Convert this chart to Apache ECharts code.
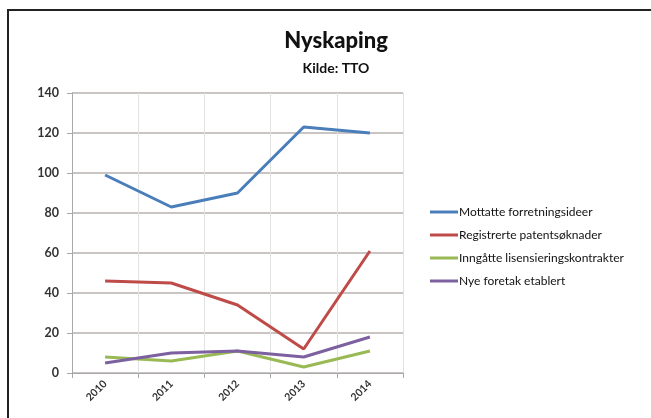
<!DOCTYPE html>
<html>
<head>
<meta charset="utf-8">
<script src="https://cdn.jsdelivr.net/npm/echarts@6/dist/echarts.min.js"></script>
<style>
  html, body { margin: 0; padding: 0; background: #fff; }
  #main { width: 651px; height: 418px; }
</style>
</head>
<body>
<div id="main"></div>
<script>
// years on the x axis
var years = ['2010', '2011', '2012', '2013', '2014'];
// values
var mottatte = [99, 83, 90, 123, 120];
var registrerte = [46, 45, 34, 12, 61];
var inngatte = [8, 6, 11, 3, 11];
var nyeForetak = [5, 10, 11, 8, 18];

var seriesNames = ['Mottatte forretningsideer', 'Registrerte patentsøknader',
    'Inngåtte lisensieringskontrakter', 'Nye foretak etablert'];
var seriesColors = ['#4a7ebb', '#be4b48', '#98b954', '#7d60a0'];

var chartDom = document.getElementById('main');
var myChart = echarts.init(chartDom, null, { renderer: 'canvas' });

var lines = [mottatte, registrerte, inngatte, nyeForetak].map(function (vals, i) {
    return {
        name: seriesNames[i],
        type: 'line',
        symbol: 'none',
        data: vals,
        lineStyle: { width: 3, color: seriesColors[i] },
        itemStyle: { color: seriesColors[i] }
    };
});

var option = {
    backgroundColor: '#fff',
    animation: false,
    textStyle: { fontFamily: 'Lato' },
    title: [{
        text: 'Nyskaping',
        left: 331,
        top: 25,
        textAlign: 'center',
        textStyle: { fontFamily: 'Lato', fontSize: 22, fontWeight: 900, color: '#111' }
    }, {
        text: 'Kilde: TTO',
        left: 331,
        top: 56,
        textAlign: 'center',
        textStyle: { fontFamily: 'Lato', fontSize: 14, fontWeight: 'bold', color: '#111' }
    }],
    graphic: [{
        type: 'rect',
        shape: { x: 8, y: 10, width: 700, height: 500 },
        style: { fill: 'none', stroke: '#222', lineWidth: 2 },
        silent: true
    }],
    legend: {
        orient: 'vertical',
        left: 425,
        top: 200,
        icon: 'rect',
        itemWidth: 28,
        itemHeight: 3,
        itemGap: 9,
        data: seriesNames,
        textStyle: { fontFamily: 'Lato', fontSize: 12, color: '#111', padding: [0, 0, 0, -4], lineHeight: 14 }
    },
    grid: { left: 72, right: 248, top: 93, bottom: 45 },
    xAxis: {
        type: 'category',
        data: years,
        boundaryGap: true,
        axisLine: { lineStyle: { color: '#a8a8a8', width: 1 } },
        axisTick: { show: true, length: 5, lineStyle: { color: '#a8a8a8' } },
        splitLine: { show: true, lineStyle: { color: '#e2e2e2' } },
        axisLabel: { rotate: 45, margin: 9, fontSize: 10.5, fontWeight: 'bold', color: '#333' }
    },
    yAxis: {
        type: 'value',
        min: 0,
        max: 140,
        interval: 20,
        axisLine: { show: true, lineStyle: { color: '#a8a8a8' } },
        axisTick: { show: true, length: 5, lineStyle: { color: '#a8a8a8' } },
        splitLine: { lineStyle: { color: '#b8b0ae', width: 1.5 } },
        axisLabel: { margin: 13, fontSize: 12.5, fontWeight: 'bold', color: '#333' }
    },
    series: lines
};

option && myChart.setOption(option);
</script>
</body>
</html>
